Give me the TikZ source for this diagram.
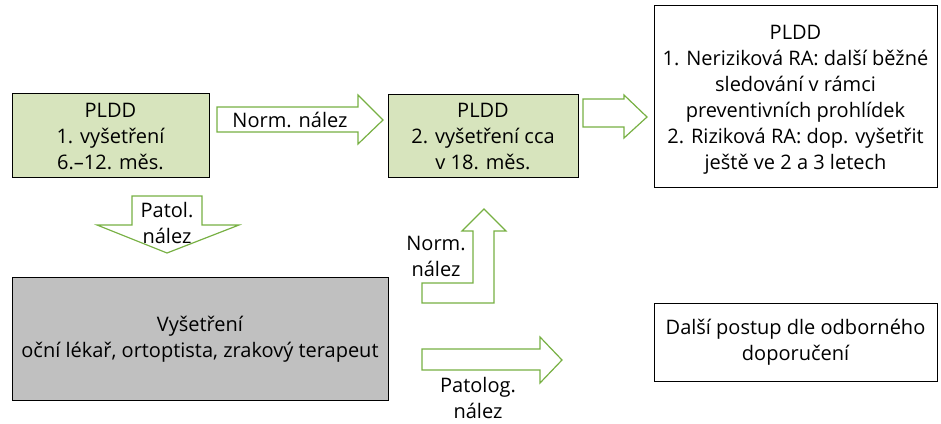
\documentclass[tikz,border=0pt]{standalone}
\usepackage{fontspec}
\setmainfont{Open Sans}
\begin{document}
\begin{tikzpicture}[x=1pt,y=-1pt,
  txt/.style={font=\fontsize{20}{26}\selectfont, align=center, inner sep=0pt},
  greenbox/.style={draw=black, line width=1pt, fill=boxgreen},
  graybox/.style={draw=black, line width=1pt, fill=boxgray},
  whitebox/.style={draw=black, line width=1pt, fill=white},
  blockarrow/.style={draw=arrowgreen, line width=1.2pt, fill=white, line join=miter}]
\definecolor{boxgreen}{HTML}{D7E4BD}
\definecolor{boxgray}{HTML}{C0C0C0}
\definecolor{arrowgreen}{HTML}{77B043}
\useasboundingbox (0,0) rectangle (941,423);

% boxes
\draw[greenbox] (12,93) rectangle (209,177);
\node[txt] (first) at (110.5,137) {PLDD\\1. vyšetření\\6.–12. měs.};
\draw[greenbox] (388,94) rectangle (578,177);
\node[txt] (second) at (483,137) {PLDD\\2. vyšetření cca\\v 18. měs.};
\draw[whitebox] (654,5) rectangle (937,187);
\node[txt] (outcome) at (795.5,100) {PLDD\\1. Neriziková RA: další běžné\\sledování v rámci\\preventivních prohlídek\\2. Riziková RA: dop. vyšetřit\\ještě ve 2 a 3 letech};
\draw[graybox] (12,277) rectangle (388,400);
\node[txt] (exam) at (200,339) {Vyšetření\\oční lékař, ortoptista, zrakový terapeut};
\draw[whitebox] (654,303) rectangle (937,381);
\node[txt] (further) at (795.5,342) {Další postup dle odborného\\doporučení};

% block arrows
\draw[blockarrow] (217,107) -- (358,107) -- (358,95) -- (383,120) -- (358,144) -- (358,132) -- (217,132) -- cycle;
\node[txt] (normA) at (290,120) {Norm. nález};

\draw[blockarrow] (132,196) -- (202,196) -- (202,225) -- (239,225) -- (167,253) -- (97,225) -- (132,225) -- cycle;
\node[txt] (patA) at (167,223) {Patol.\\nález};

\draw[blockarrow] (583,99) -- (624,99) -- (624,95) -- (647,117) -- (624,138) -- (624,127) -- (583,127) -- cycle;

\draw[blockarrow] (422,283) -- (473,283) -- (473,231) -- (462,231) -- (484,209) -- (506,231) -- (494,231) -- (494,303) -- (422,303) -- cycle;
\node[txt] (normB) at (436,256) {Norm.\\nález};

\draw[blockarrow] (422,349) -- (540,349) -- (540,337) -- (562,360) -- (540,383) -- (540,370) -- (422,370) -- cycle;
\node[txt] (patB) at (478,398) {Patolog.\\nález};
\end{tikzpicture}
\end{document}
